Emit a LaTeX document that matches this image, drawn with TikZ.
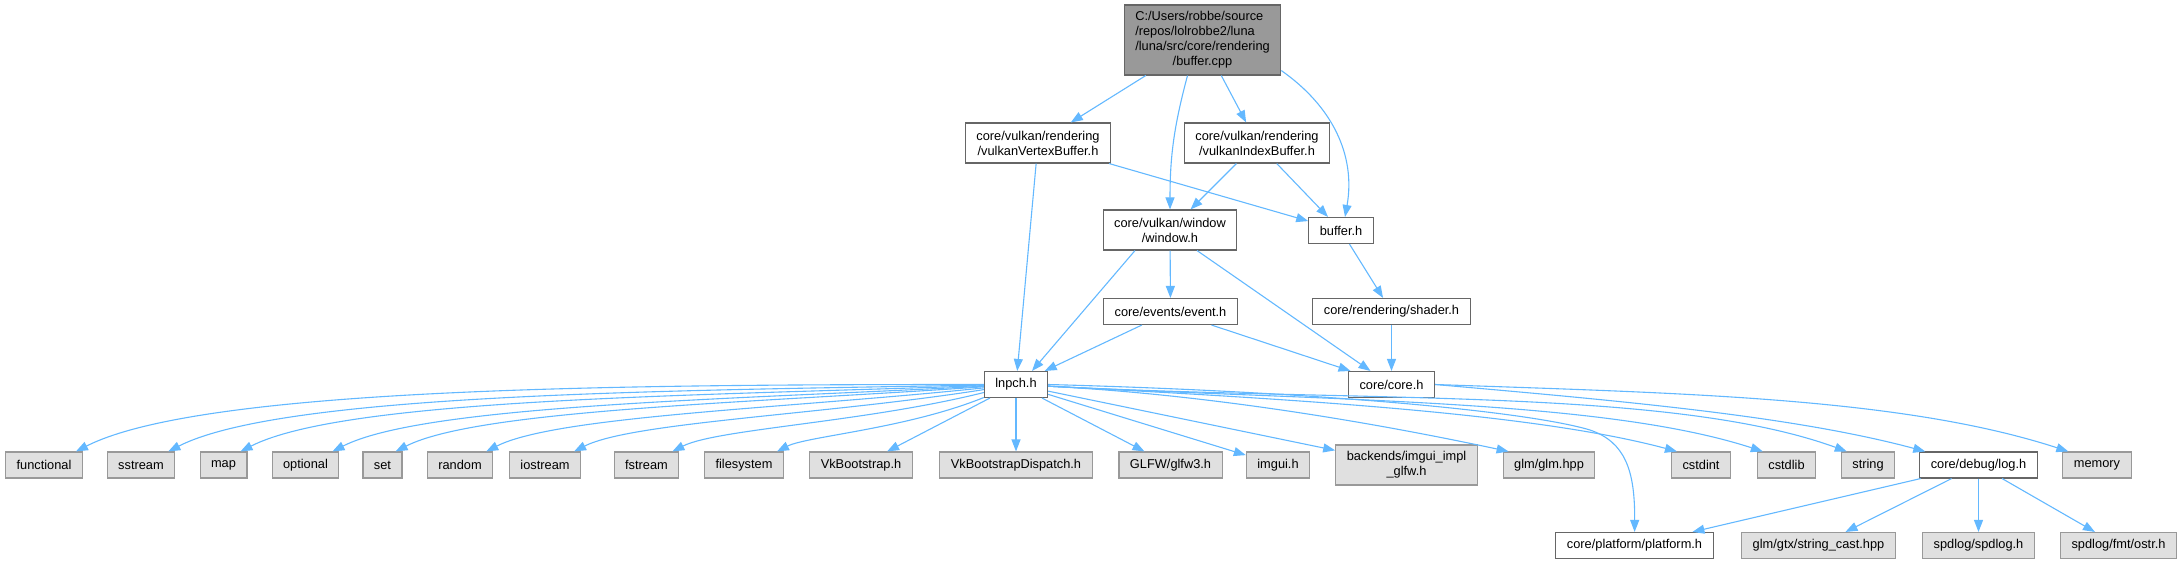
\documentclass[tikz,border=0pt]{standalone}
\usepackage{fontspec}
\setmainfont{Liberation Sans}
\usetikzlibrary{arrows.meta}

\begin{document}
\begin{tikzpicture}[
    x=1pt, y=-1pt,
    font=\fontsize{12.8}{15}\selectfont,
    every node/.style={inner xsep=11pt, inner ysep=2pt, line width=1.1pt, minimum height=26pt},
    src/.style={draw=frame, fill=srcfill},
    hdr/.style={draw=frame, fill=white},
    ext/.style={draw=extframe, fill=extfill},
    twoline/.style={align=center, minimum height=40pt},
    incl/.style={draw=link, line width=1.1pt, -{Triangle[length=12pt,width=9pt]}}
]
\definecolor{frame}{HTML}{666666}
\definecolor{srcfill}{HTML}{999999}
\definecolor{extframe}{HTML}{999999}
\definecolor{extfill}{HTML}{E0E0E0}
\definecolor{link}{HTML}{63B8FF}

\useasboundingbox (0,0) rectangle (2183,564);

% buffer.cpp and the project headers it pulls in
\node[src, minimum height=70pt] (cpp) at (1202.5,40) {\begin{tabular}{@{}l@{}}
    C:/Users/robbe/source\\
    /repos/lolrobbe2/luna\\
    /luna/src/core/rendering\\
    \multicolumn{1}{@{}c@{}}{/buffer.cpp}\end{tabular}};
\node[hdr, twoline] (vtxbuf) at (1038,143) {core/vulkan/rendering\\/vulkanVertexBuffer.h};
\node[hdr, twoline] (idxbuf) at (1257,143) {core/vulkan/rendering\\/vulkanIndexBuffer.h};
\node[hdr, twoline] (window) at (1170,230) {core/vulkan/window\\/window.h};
\node[hdr] (bufh) at (1341,230.5) {buffer.h};
\node[hdr] (event) at (1170.5,311.5) {core/events/event.h};
\node[hdr] (shader) at (1391.5,311.5) {core/rendering/shader.h};
\node[hdr] (lnpch) at (1016,384.5) {lnpch.h};
\node[hdr] (core) at (1391.5,384.5) {core/core.h};

% system and third-party headers, y = 465
\foreach \id/\x/\lab in {
    functional/44/functional,
    sstream/141/sstream,
    map/223.5/map,
    optional/305.5/optional,
    set/382.5/set,
    random/460/random,
    iostream/545/iostream,
    fstream/646.5/fstream,
    filesystem/744/filesystem,
    vkb/861/VkBootstrap.h,
    vkbd/1016/VkBootstrapDispatch.h,
    glfw/1170.5/{GLFW/glfw3.h},
    imgui/1278/imgui.h,
    glmh/1549/{glm/glm.hpp},
    cstdint/1701/cstdint,
    cstdlib/1786.5/cstdlib,
    string/1868/string,
    memory/2097/memory} {
  \node[ext] (\id) at (\x,465) {\lab};
}
\node[ext, twoline] (backends) at (1406.5,465) {backends/imgui\_impl\\\_glfw.h};
\node[hdr] (logh) at (1978.5,465) {core/debug/log.h};

% log.h and what it includes, y = 545.5
\node[hdr] (platform) at (1634.5,545.5) {core/platform/platform.h};
\node[ext] (strcast) at (1818.5,545.5) {glm/gtx/string\_cast.hpp};
\node[ext] (spdlog) at (1978.5,545.5) {spdlog/spdlog.h};
\node[ext] (ostr) at (2118.5,545.5) {spdlog/fmt/ostr.h};

% upper part of the graph
\draw[incl] (cpp) -- (vtxbuf);
\draw[incl] (cpp) -- (idxbuf);
\draw[incl] ([xshift=-15pt]cpp.south) to[out=-105, in=90] (window);
\draw[incl] ([yshift=5pt]cpp.south east) to[out=-35, in=80] ([xshift=4pt]bufh.north);
\draw[incl] (vtxbuf) -- (bufh);
\draw[incl] (vtxbuf) -- (lnpch);
\draw[incl] (idxbuf) -- (window);
\draw[incl] (idxbuf) -- (bufh);
\draw[incl] ([xshift=-35pt]window.south) -- ([xshift=16pt]lnpch.north);
\draw[incl] (window) -- (event);
\draw[incl] ([xshift=27pt]window.south) -- ([xshift=-21pt]core.north);
\draw[incl] (bufh) -- (shader);
\draw[incl] (event) -- (lnpch);
\draw[incl] (event) -- (core);
\draw[incl] (shader) -- (core);

% core.h
\draw[incl] (core.east) to[out=-5, in=165, in looseness=0.7] ([xshift=6pt]logh.north west);
\draw[incl] (core.east) to[out=-2, in=162, in looseness=0.7] ([xshift=6pt]memory.north west);

% lnpch.h fans out over the bottom row
\foreach \id/\a in {functional/180, sstream/181, map/182, optional/183, set/184,
                    random/186, iostream/189, fstream/194, filesystem/202} {
  \draw[incl] (lnpch) to[out=\a, in=27, in looseness=0.4] ([xshift=-7pt]\id.north east);
}
\draw[incl] (lnpch) -- (vkb);
\draw[incl] (lnpch) -- (vkbd);
\draw[incl] (lnpch) -- (glfw);
\draw[incl] (lnpch) -- (imgui);
\draw[incl] (lnpch) -- (backends);
\foreach \id/\b in {glmh/168, cstdint/165, cstdlib/162, string/160} {
  \draw[incl] (lnpch) to[out=-3, in=\b, in looseness=0.6] ([xshift=6pt]\id.north west);
}
\draw[incl] (lnpch.east) .. controls (1330,392) and (1530,412) .. (1590,430)
  .. controls (1625,442) and (1635,470) .. (platform);

% log.h
\draw[incl] (logh) -- (platform);
\draw[incl] (logh) -- (strcast);
\draw[incl] (logh) -- (spdlog);
\draw[incl] (logh) -- (ostr);
\end{tikzpicture}
\end{document}
